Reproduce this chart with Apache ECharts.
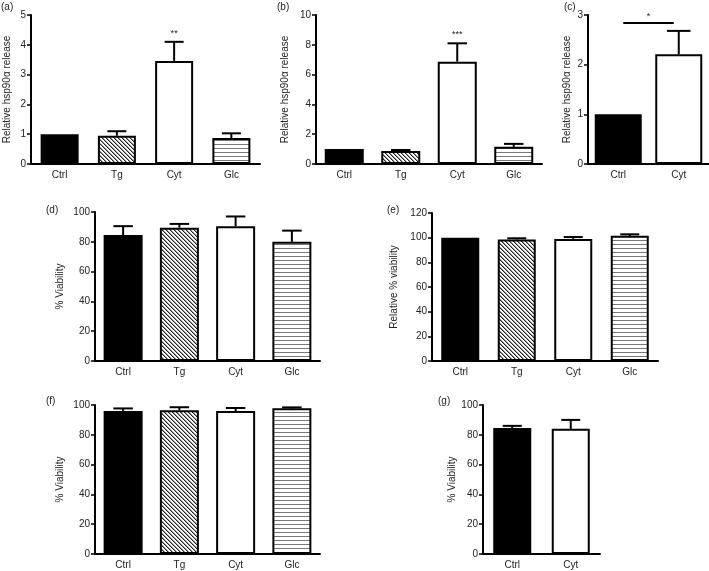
<!DOCTYPE html>
<html><head><meta charset="utf-8">
<script src="https://cdn.jsdelivr.net/npm/echarts@6/dist/echarts.min.js"></script>
<style>html,body{margin:0;padding:0;background:#fff}#c{width:709px;height:571px}</style>
</head><body><div id="c"></div>
<script>
// ---- data ----
const cats4 = ['Ctrl', 'Tg', 'Cyt', 'Glc'];
const cats2 = ['Ctrl', 'Cyt'];
const aMean = [1.0, 0.95, 3.46, 0.87];
const aSem  = [0, 0.15, 0.64, 0.16];
const aSig  = ['', '', '**', ''];
const bMean = [1.0, 0.87, 6.87, 1.15];
const bSem  = [0, 0.07, 1.23, 0.2];
const bSig  = ['', '', '***', ''];
const cMean = [1.0, 2.21];
const cSem  = [0, 0.47];
const cSigPair = [0, 1, 2.84, '*'];
const dMean = [84.5, 89.5, 90.5, 80];
const dSem  = [6, 2.5, 6.5, 7.5];
const eMean = [100, 98.5, 99, 101.5];
const eSem  = [0, 1, 1.5, 1.2];
const fMean = [96, 96.5, 96, 97.8];
const fSem  = [1.7, 2, 2, 0.6];
const gMean = [84.5, 84];
const gSem  = [1.5, 6];
const yNameHsp = 'Relative hsp90\u03b1 release';
const yNameVia = '% Viability';
const yNameRel = 'Relative % viability';

// ---- patterns ----
function hatch() {
  const c = document.createElement('canvas'); c.width = 4; c.height = 4;
  const x = c.getContext('2d'); x.fillStyle = '#fff'; x.fillRect(0,0,4,4);
  x.fillStyle = '#222';
  for (let i = 0; i < 4; i++) { x.fillRect(i, i, 1, 1); }
  x.fillStyle = '#999';
  for (let i = 0; i < 4; i++) { x.fillRect((i+1)%4, i, 1, 1); }
  return { image: c, repeat: 'repeat' };
}
function stripes() {
  const c = document.createElement('canvas'); c.width = 4; c.height = 4;
  const x = c.getContext('2d'); x.fillStyle = '#fff'; x.fillRect(0,0,4,4);
  x.fillStyle = '#777'; x.fillRect(0, 0, 4, 1);
  return { image: c, repeat: 'repeat' };
}
const fills = { Ctrl: '#000', Tg: hatch(), Cyt: '#fff', Glc: stripes() };

const FONT = "'Liberation Sans', Arial, Helvetica, sans-serif";
const TXT = '#222';

const panels = [
  { lab:'(a)', cats:cats4, mean:aMean, sem:aSem, sig:aSig, max:5, interval:1, name:yNameHsp, grid:{left:31, top:15, width:229, height:149}, gap:19, bw:38, lx:1, ly:2 },
  { lab:'(b)', cats:cats4, mean:bMean, sem:bSem, sig:bSig, max:10, interval:2, name:yNameHsp, grid:{left:316, top:15, width:226, height:149}, gap:26, bw:39, lx:277, ly:2 },
  { lab:'(c)', cats:cats2, mean:cMean, sem:cSem, sig:null, max:3, interval:1, name:yNameHsp, grid:{left:588, top:15, width:126, height:149}, gap:16, bw:47, lx:564, ly:2 },
  { lab:'(d)', cats:cats4, mean:dMean, sem:dSem, sig:null, max:100, interval:20, name:yNameVia, grid:{left:95, top:212, width:225, height:149}, gap:30, bw:39, lx:46, ly:205 },
  { lab:'(e)', cats:cats4, mean:eMean, sem:eSem, sig:null, max:120, interval:20, name:yNameRel, grid:{left:432, top:213, width:226, height:148}, gap:33, bw:38, lx:387, ly:205 },
  { lab:'(f)', cats:cats4, mean:fMean, sem:fSem, sig:null, max:100, interval:20, name:yNameVia, grid:{left:95, top:405, width:225, height:149}, gap:30, bw:39, lx:46, ly:396 },
  { lab:'(g)', cats:cats2, mean:gMean, sem:gSem, sig:null, max:100, interval:20, name:yNameVia, grid:{left:483, top:405, width:117, height:149}, gap:26, bw:38, lx:438, ly:396 }
];

const option = { animation:false, backgroundColor:'#fff', grid:[], xAxis:[], yAxis:[], series:[], title:[] };

panels.forEach((p, i) => {
  option.grid.push(Object.assign({ containLabel:false }, p.grid));
  option.title.push({ text:p.lab, left:p.lx, top:p.ly, padding:0, textStyle:{ fontSize:10, fontWeight:'normal', color:TXT, fontFamily:FONT } });
  option.xAxis.push({ gridIndex:i, type:'category', data:p.cats,
    axisLine:{ lineStyle:{ color:'#000', width:2 } }, axisTick:{ show:false },
    axisLabel:{ fontSize:10, color:TXT, margin:6, fontFamily:FONT } });
  option.yAxis.push({ gridIndex:i, type:'value', min:0, max:p.max, interval:p.interval,
    name:p.name, nameLocation:'middle', nameGap:p.gap,
    nameTextStyle:{ fontSize:10, color:TXT, fontFamily:FONT },
    axisLine:{ show:true, lineStyle:{ color:'#000', width:2 } },
    axisTick:{ show:true, length:4, lineStyle:{ color:'#000', width:1.5 } },
    axisLabel:{ fontSize:10, color:TXT, margin:5, fontFamily:FONT },
    splitLine:{ show:false } });
  option.series.push({ type:'bar', xAxisIndex:i, yAxisIndex:i, barWidth:p.bw,
    data:p.mean.map((v, k) => ({ value:v, itemStyle:{ color:fills[p.cats[k]], borderColor:'#000', borderWidth:2 } })) });
  const half = p.bw / 4;
  option.series.push({ type:'custom', xAxisIndex:i, yAxisIndex:i, z:1,
    data:p.mean.map((v, k) => [k, v, p.sem[k]]),
    renderItem:(params, api) => {
      const k = api.value(0), m = api.value(1), s = api.value(2);
      const lab = p.sig ? p.sig[k] : '';
      const b = api.coord([k, m]), t = api.coord([k, m + s]);
      const ch = [];
      if (s > 0) {
        ch.push({ type:'line', shape:{ x1:b[0], y1:b[1], x2:t[0], y2:t[1] }, style:{ stroke:'#000', lineWidth:2 } });
        ch.push({ type:'line', shape:{ x1:t[0]-half, y1:t[1], x2:t[0]+half, y2:t[1] }, style:{ stroke:'#000', lineWidth:2 } });
      }
      if (lab) {
        ch.push({ type:'text', x:t[0], y:t[1]-4, style:{ text:lab, fontSize:9, fill:TXT, align:'center', verticalAlign:'bottom', fontFamily:FONT } });
      }
      return { type:'group', children:ch };
    } });
});

// significance bracket in (c)
option.series.push({ type:'custom', xAxisIndex:2, yAxisIndex:2, data:[cSigPair],
  renderItem:(params, api) => {
    const l = api.coord([api.value(0), api.value(2)]);
    const r = api.coord([api.value(1), api.value(2)]);
    return { type:'group', children:[
      { type:'line', shape:{ x1:l[0]+5, y1:l[1], x2:r[0]-5, y2:r[1] }, style:{ stroke:'#000', lineWidth:2 } },
      { type:'text', x:(l[0]+r[0])/2, y:l[1]-2, style:{ text:cSigPair[3], fontSize:9, fill:TXT, align:'center', verticalAlign:'bottom', fontFamily:FONT } }
    ] };
  } });

const chart = echarts.init(document.getElementById('c'), null, { renderer:'canvas' });
chart.setOption(option);
</script>
</body></html>
